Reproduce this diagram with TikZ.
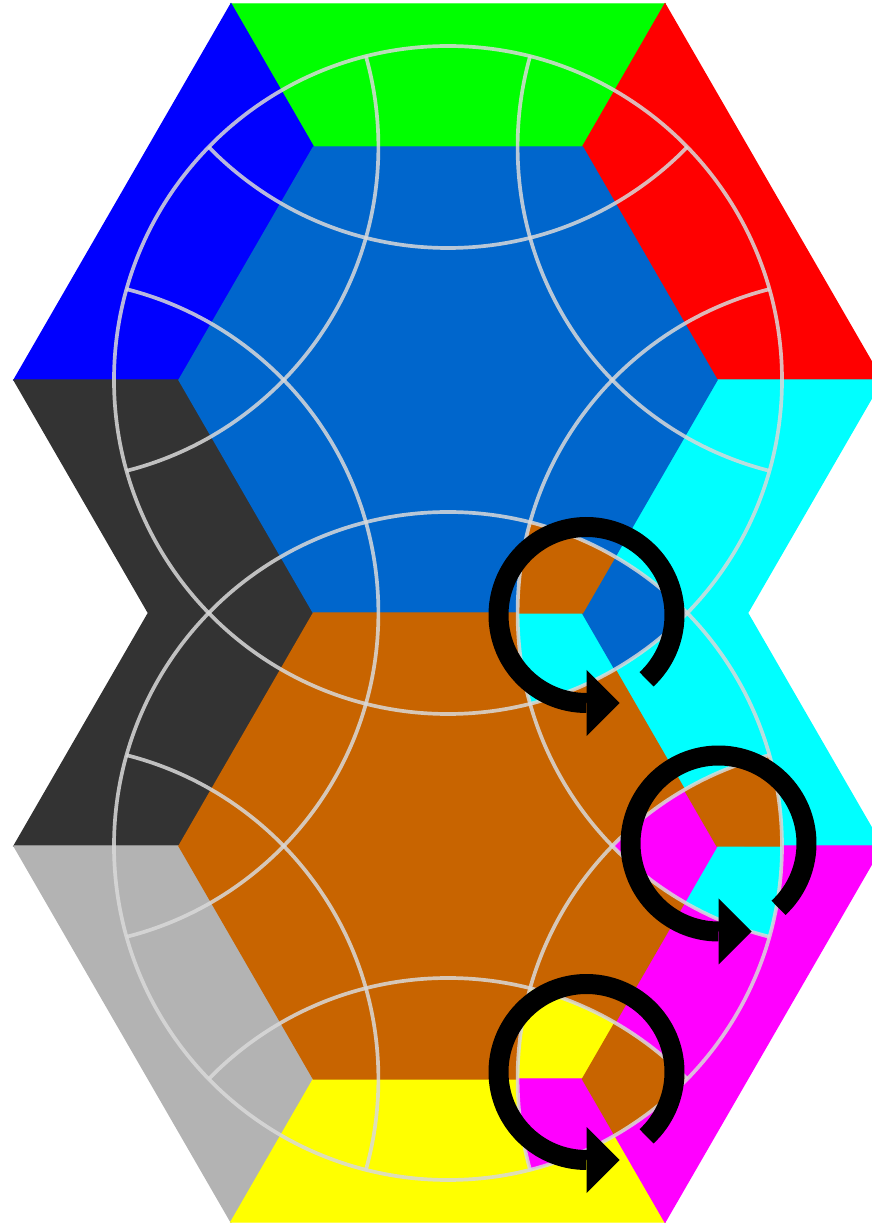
\documentclass[tikz,border=0pt]{standalone}
\usetikzlibrary{arrows.meta,calc}

\definecolor{hexblue}{RGB}{0,102,204}
\definecolor{hexorange}{RGB}{200,100,0}
\definecolor{darkside}{RGB}{51,51,51}
\definecolor{lightside}{RGB}{179,179,179}
\definecolor{sidegreen}{RGB}{0,255,0}
\definecolor{sideblue}{RGB}{0,0,255}
\definecolor{sidered}{RGB}{255,0,0}
\definecolor{sidecyan}{RGB}{0,255,255}
\definecolor{sidemagenta}{RGB}{255,0,255}
\definecolor{sideyellow}{RGB}{255,255,0}

\tikzset{
  puzzlepiece/.style={fill=#1, draw=#1, line width=0.4pt},
  ringline/.style={draw=gray!30, line width=1.05pt, draw opacity=0.85},
  turnarrow/.style={draw=black, line width=2mm, -{Triangle[width=6.6mm,length=3.3mm,line width=0pt]}},
}

\newcommand{\puzzlepieces}{%
  \fill[puzzlepiece=sidegreen] (2.31,12.19) -- (6.65,12.19) -- (5.825,10.76) -- (3.135,10.76) -- cycle;
  \fill[puzzlepiece=sideblue] (0.14,8.43) -- (2.31,12.19) -- (3.135,10.76) -- (1.79,8.43) -- cycle;
  \fill[puzzlepiece=sidered] (6.65,12.19) -- (8.82,8.43) -- (7.17,8.43) -- (5.825,10.76) -- cycle;
  \fill[puzzlepiece=darkside] (0.14,8.43) -- (1.79,8.43) -- (3.135,6.10) -- (1.79,3.77) -- (0.14,3.77) -- (1.485,6.10) -- cycle;
  \fill[puzzlepiece=sidecyan] (8.82,8.43) -- (7.17,8.43) -- (5.825,6.10) -- (7.17,3.77) -- (8.82,3.77) -- (7.475,6.10) -- cycle;
  \fill[puzzlepiece=lightside] (0.14,3.77) -- (1.79,3.77) -- (3.135,1.44) -- (2.31,0.01) -- cycle;
  \fill[puzzlepiece=sideyellow] (2.31,0.01) -- (3.135,1.44) -- (5.825,1.44) -- (6.65,0.01) -- cycle;
  \fill[puzzlepiece=sidemagenta] (8.82,3.77) -- (6.65,0.01) -- (5.825,1.44) -- (7.17,3.77) -- cycle;
  \fill[puzzlepiece=hexblue] (7.17,8.43) -- (5.825,10.76) -- (3.135,10.76) -- (1.79,8.43) -- (3.135,6.10) -- (5.825,6.10) -- cycle;
  \fill[puzzlepiece=hexorange] (7.17,3.77) -- (5.825,6.10) -- (3.135,6.10) -- (1.79,3.77) -- (3.135,1.44) -- (5.825,1.44) -- cycle;
}

\begin{document}
\begin{tikzpicture}
\useasboundingbox (0,0) rectangle (8.72,12.23);
\clip (0,0) rectangle (8.72,12.23);

\coordinate (hexA) at (4.48,8.43);
\coordinate (hexB) at (4.48,3.77);
\coordinate (nbN) at (4.48,13.09);
\coordinate (nbNE) at (8.516,10.76);
\coordinate (nbNW) at (0.444,10.76);
\coordinate (nbW) at (0.444,6.10);
\coordinate (nbE) at (8.516,6.10);
\coordinate (nbSW) at (0.444,1.44);
\coordinate (nbSE) at (8.516,1.44);
\coordinate (nbS) at (4.48,-0.89);

\puzzlepieces

% turned corners
\begin{scope}
\clip (hexA) circle (3.34);
\clip (hexB) circle (3.34);
\clip (nbE) circle (3.34);
\begin{scope}[rotate around={-120:(5.825,6.10)}]
\puzzlepieces
\end{scope}
\end{scope}
\begin{scope}
\clip (hexB) circle (3.34);
\clip (nbE) circle (3.34);
\clip (nbSE) circle (3.34);
\begin{scope}[rotate around={-120:(7.17,3.77)}]
\puzzlepieces
\end{scope}
\end{scope}
\begin{scope}
\clip (hexB) circle (3.34);
\clip (nbSE) circle (3.34);
\clip (nbS) circle (3.34);
\begin{scope}[rotate around={-120:(5.825,1.44)}]
\puzzlepieces
\end{scope}
\end{scope}

% rings
\begin{scope}
\clip (hexA) circle (3.34) (hexB) circle (3.34);
\foreach \c in {nbN,nbNE,nbNW,nbW,nbE,nbSW,nbSE,nbS}
  \draw[ringline] (\c) circle (3.34);
\end{scope}
\draw[ringline] (hexA) circle (3.34);
\draw[ringline] (hexB) circle (3.34);

\coordinate (turnA) at (5.865,6.08);
\coordinate (turnB) at (7.185,3.795);
\coordinate (turnC) at (5.865,1.51);
\foreach \t in {turnA,turnB,turnC}
  \draw[turnarrow] ($(\t)+(-47:0.88)$) arc[start angle=-47, end angle=270, radius=0.88] -- ++(0.33,0);
\end{tikzpicture}
\end{document}
